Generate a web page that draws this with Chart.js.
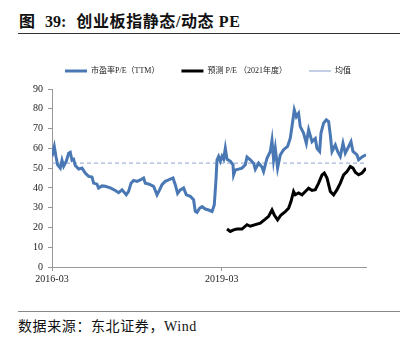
<!DOCTYPE html>
<html>
<head>
<meta charset="utf-8">
<script src="https://cdn.jsdelivr.net/npm/chart.js@4/dist/chart.umd.min.js"></script>
<style>
  html,body{margin:0;padding:0;background:#fff;}
  body{width:414px;height:340px;position:relative;overflow:hidden;}
  #title{position:absolute;left:19px;top:12px;font:bold 16px 'Liberation Serif','Noto Sans CJK SC',serif;color:#111;line-height:20px;white-space:nowrap;}
  #title .gap{margin-left:10px;}
  #title .cn{letter-spacing:0.6px;}
  #rule1{position:absolute;left:18px;top:33px;width:382px;height:0;border-top:1.5px solid #333;}
  #rule2{position:absolute;left:18px;top:311px;width:382px;height:0;border-top:1.5px solid #888;}
  #source{position:absolute;left:18px;top:317px;font:14px 'Liberation Serif','Noto Sans CJK SC',serif;color:#111;line-height:20px;white-space:nowrap;letter-spacing:0.6px;}
  #wrap{position:absolute;left:0;top:49px;width:414px;height:246px;}
</style>
</head>
<body>
<div id="title"><span>图</span><span class="gap">39:</span><span class="gap cn">创业板指静态/动态 PE</span></div>
<div id="rule1"></div>
<div id="wrap"><canvas id="pe"></canvas></div>
<div id="rule2"></div>
<div id="source">数据来源：东北证券，Wind</div>
<script>
// months counted from 2016-03
const xTickValues = [0, 36];
const xTickLabels = ['2016-03', '2019-03'];

const blueMonths = [0,0.49,0.85,1.19,1.76,2.12,2.47,3.03,3.53,3.88,4.24,4.59,4.94,5.66,6.36,7.06,7.77,8.48,8.83,9.54,9.88,10.6,11.3,12.37,13.43,14.13,14.85,15.76,16.25,16.76,17.31,18.03,18.73,19.43,19.79,20.49,21.55,22.27,22.82,23.33,24.03,24.73,25.66,26.15,26.64,27.21,27.91,28.49,29.33,30.03,30.39,30.75,31.31,31.82,32.52,33.22,33.94,34.42,34.78,35.0,35.34,35.7,36.06,36.4,36.76,37.12,37.82,38.39,38.52,38.88,39.58,40.3,41.0,41.36,42.06,42.76,43.12,43.82,44.54,44.88,45.6,46.3,46.66,47.0,47.36,47.85,48.42,49.12,49.97,50.54,50.9,51.39,51.82,52.3,52.66,53.36,53.94,54.43,55.15,55.85,56.2,56.76,57.05,57.6,58.18,58.67,59.03,59.39,60.09,60.58,61.15,61.72,62.21,62.91,63.42,63.84,64.69,65.03,65.75,66.6];
const blueValues = [55.9,60.9,55.7,51.7,50,54,51,53.5,57.5,58,54,54.5,51.3,49.5,50,47.5,45.8,45.5,42.4,41.9,39.9,41,40.8,40,38.7,37.6,39,36.5,38.2,42.4,43.8,43.3,44,45,42.4,42,40.8,36.5,39,41.6,43.3,44,45,41.6,37.2,39,40,36.5,35.7,34,28.1,27.6,29.7,30.5,29.3,28.8,28.1,31.4,44,54.2,55.9,53.5,56,54.5,60,54.5,53.5,51.7,46.6,49,49.5,50,51.7,55.6,54.2,52.5,49.4,52.5,50.5,48.3,55,58.4,64,54.2,60,50,56.7,59.3,61,65.1,71,79.4,76,77.7,71,67.7,62.6,69.4,63.4,65,60,58.4,67.7,72.7,74.4,73.5,66.8,58.4,61.7,58.4,55.9,62.6,57.6,60.9,63.4,58.4,56.7,54.2,55.6,56.7];

const blackMonths = [37.12,37.82,38.52,39.24,40.3,41.36,42.06,43.12,44.18,45.24,45.94,46.66,47.15,47.85,48.57,49.48,50.18,50.69,51.24,51.6,52.3,53.03,53.73,54.43,55.15,55.85,56.55,57.27,57.76,58.33,59.03,59.73,60.45,61.15,61.85,62.57,63.27,63.84,64.33,65.03,65.75,66.6];
const blackValues = [19.2,18,18.8,19.2,19.2,21.4,20.6,21.4,22.2,24.2,25.6,28.9,26.3,23.8,26.3,28,29.7,33.1,38.2,36.5,37.4,36.5,38.2,39.9,38.7,39.1,42.4,46.6,47.5,45,38.2,36.5,39.1,42.4,46.6,48.3,50.8,50,47.9,46.6,47.5,50];

const meanValue = 52.5;
const seriesNames = ['市盈率P/E（TTM）', '预测 P/E （2021年度）', '均值'];

const xy = (xs, ys) => xs.map((x, i) => ({x, y: ys[i]}));
const xEnd = blueMonths[blueMonths.length - 1];
const serif = "'Liberation Serif','Noto Sans CJK SC',serif";

const legendShift = {
  id: 'legendShift',
  afterLayout(chart){
    const lg = chart.legend;
    lg.left += 25; lg.right += 25;
    lg.top -= 4; lg.bottom -= 4;
  }
};

new Chart(document.getElementById('pe'), {
  type: 'line',
  data: {
    datasets: [
      {label: seriesNames[0], data: xy(blueMonths, blueValues), borderColor: '#4a78b4', backgroundColor: '#4a78b4', borderWidth: 3, pointRadius: 0, tension: 0},
      {label: seriesNames[1], data: xy(blackMonths, blackValues), borderColor: '#000', backgroundColor: '#000', borderWidth: 3, pointRadius: 0, tension: 0},
      {label: seriesNames[2], data: [{x: 0, y: meanValue}, {x: xEnd, y: meanValue}], borderColor: '#a3b5d6', backgroundColor: '#a3b5d6', borderWidth: 1.3, borderDash: [4, 3], pointRadius: 0}
    ]
  },
  options: {
    responsive: true,
    maintainAspectRatio: false,
    animation: false,
    layout: {padding: {left: 0, right: 48, top: 0, bottom: 0}},
    plugins: {
      tooltip: {enabled: false},
      legend: {
        position: 'top',
        labels: {usePointStyle: true, pointStyle: 'line', pointStyleWidth: 22, padding: 22, color: '#222', font: {family: serif, size: 8}}
      }
    },
    scales: {
      x: {
        type: 'linear', min: 0, max: xEnd,
        afterBuildTicks: s => { s.ticks = xTickValues.map(v => ({value: v})); },
        afterFit: s => { s.height = 28; },
        grid: {drawOnChartArea: false, drawTicks: true, tickLength: 4, color: '#999'},
        border: {color: '#999', width: 1},
        ticks: {autoSkip: false, maxRotation: 0, padding: 2, color: '#222', font: {family: serif, size: 10},
          callback: v => xTickLabels[xTickValues.indexOf(v)] ?? ''}
      },
      y: {
        min: 0, max: 90,
        afterFit: s => { s.width = 52; },
        grid: {drawOnChartArea: false, drawTicks: true, tickLength: 4, color: '#999'},
        border: {color: '#999', width: 1},
        ticks: {stepSize: 10, padding: 5, color: '#222', font: {family: serif, size: 10}}
      }
    }
  },
  plugins: [legendShift]
});
</script>
</body>
</html>
